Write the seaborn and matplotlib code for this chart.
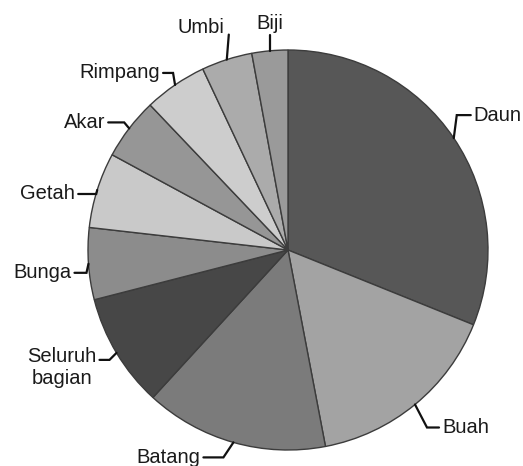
import numpy as np
import matplotlib
matplotlib.use("Agg")
import matplotlib.pyplot as plt
import seaborn as sns

# bagian tanaman yang dimanfaatkan (persen), searah jarum jam dari atas
parts = ['Daun', 'Buah', 'Batang', 'Seluruh\nbagian', 'Bunga', 'Getah',
         'Akar', 'Rimpang', 'Umbi', 'Biji']
shares = [31.1, 15.9, 14.8, 9.2, 5.8, 6.1, 5.0, 5.1, 4.1, 2.9]
greys = ['#575757', '#a3a3a3', '#7b7b7b', '#474747', '#8c8c8c',
         '#c9c9c9', '#969696', '#cdcdcd', '#ababab', '#9a9a9a']

# leader line: elbow offset from wedge edge (dx, dy), horizontal length, text ha, va
leader = {
    'Daun': (0.015, 0.115, 0.07, 'left', 'center'),
    'Buah': (0.06, -0.115, 0.06, 'left', 'center'),
    'Batang': (-0.05, -0.075, -0.10, 'right', 'center'),
    'Seluruh\nbagian': (-0.035, -0.035, -0.05, 'right', 'top'),
    'Bunga': (-0.01, -0.045, -0.06, 'right', 'center'),
    'Getah': (-0.005, -0.02, -0.09, 'right', 'center'),
    'Akar': (-0.025, 0.03, -0.08, 'right', 'center'),
    'Rimpang': (-0.01, 0.06, -0.05, 'right', 'center'),
    'Umbi': (0.01, 0.125, 0.0, 'right', 'bottom'),
    'Biji': (0.0, 0.08, 0.0, 'center', 'bottom'),
}

sns.set_theme(style='white')
plt.rcParams['font.family'] = ['Liberation Sans', 'DejaVu Sans']

fig = plt.figure(figsize=(5.23, 4.66), dpi=100)
ax = fig.add_axes([0, 0, 1, 1])
wedges, _ = ax.pie(shares, colors=greys, startangle=90, counterclock=False,
                   radius=1.0, wedgeprops=dict(edgecolor='#3c3c3c', linewidth=1.0))
ax.set_xlim(-1.44, 1.175)
ax.set_ylim(-1.08, 1.25)
ax.set_aspect('equal', adjustable='box')
ax.axis('off')

for w, name in zip(wedges, parts):
    ang = np.deg2rad((w.theta1 + w.theta2) / 2)
    px, py = np.cos(ang), np.sin(ang)
    dx, dy, hl, ha, va = leader[name]
    ex, ey = px + dx, py + dy
    hx = ex + hl
    ax.plot([px, ex, hx], [py, ey, ey], color='#111111', lw=1.6,
            solid_joinstyle='miter', clip_on=False)
    if hl > 0:
        tx, ty = hx + 0.015, ey
    elif hl < 0:
        tx, ty = hx - 0.015, ey
        if va == 'top':
            ty = ey + 0.065
    elif ha == 'right':
        tx, ty = ex - 0.02, ey - 0.01
    else:
        tx, ty = ex, ey + 0.01
    ax.text(tx, ty, name, ha=ha, va=va, fontsize=14.5, color='#1a1a1a',
            multialignment='center')

fig.savefig('out.png', dpi=100)
